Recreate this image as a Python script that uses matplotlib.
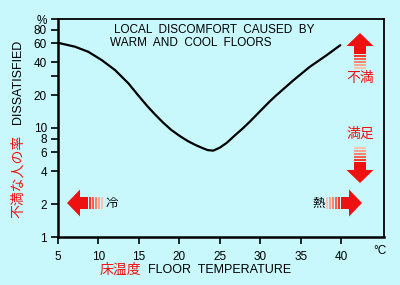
import matplotlib
matplotlib.use("Agg")
import matplotlib.pyplot as plt
from matplotlib.patches import Polygon

# Werte
temperatur = [5.2, 7.1, 8.75, 10.4, 12.05, 13.7, 14.9, 16.0, 17.0, 18.0, 19.0,
              20.1, 21.1, 22.0, 22.75, 23.5, 24.2, 25.0, 25.85, 26.9, 27.9,
              28.7, 30.0, 31.2, 32.0, 34.1, 36.1, 38.2, 39.9]
unzufrieden = [60, 55.7, 50, 42, 34, 25.7, 20.0, 16.0, 13.3, 11.2, 9.6,
               8.4, 7.55, 6.98, 6.6, 6.27, 6.2, 6.6, 7.3, 8.6, 10.0,
               11.4, 14.3, 17.6, 20.0, 27.4, 36.3, 46.5, 57.5]

x_ticks = [5, 10, 15, 20, 25, 30, 35, 40]
y_ticks = [1, 2, 4, 6, 8, 10, 20, 40, 60, 80, 100]
y_labels = ['1', '2', '4', '6', '8', '10', '20', '40', '60', '80', '%']
y_minor = [30]

BG = '#c8f8fc'
ROT = '#ee1111'
LAT = 'Liberation Sans'
JP = ['Noto Sans CJK JP', 'DejaVu Sans']

W, H = 400, 285
fig = plt.figure(figsize=(W / 100, H / 100), dpi=100, facecolor=BG)
ax = fig.add_axes([58 / W, 1 - 237 / H, (384 - 58) / W, (237 - 19) / H])
ax.set_facecolor(BG)

ax.plot(temperatur, unzufrieden, color='black', lw=1.6,
        solid_joinstyle='round', solid_capstyle='round')

ax.set_yscale('log')
ax.set_ylim(1, 100)
ax.set_xlim(5, 45.3)
ax.set_xticks(x_ticks)
ax.set_xticklabels([str(t) for t in x_ticks], fontfamily=LAT, fontsize=8.5)
ax.set_yticks(y_ticks)
ax.set_yticklabels(y_labels, fontfamily=LAT, fontsize=8.5)
ax.set_yticks(y_minor, minor=True)
ax.yaxis.set_minor_formatter(plt.NullFormatter())
ax.tick_params(axis='both', which='both', direction='out', length=5, width=1.2)
ax.tick_params(axis='x', pad=5)
ax.tick_params(axis='y', pad=3)

for s in ['left', 'bottom']:
    ax.spines[s].set_linewidth(1.8)
for s in ['top', 'right']:
    ax.spines[s].set_linewidth(1.3)


def px(x, y):
    return x / W, 1 - y / H


def txt(x, y, s, **kw):
    fx, fy = px(x, y)
    fig.text(fx, fy, s, **kw)


# Titel
txt(214, 30, 'LOCAL  DISCOMFORT  CAUSED  BY', fontfamily=LAT, fontsize=8.5,
    ha='center', va='center')
txt(110, 43, 'WARM  AND  COOL  FLOORS', fontfamily=LAT, fontsize=8.5,
    ha='left', va='center')

# Achsenbeschriftungen
txt(18, 82, 'DISSATISFIED', fontfamily=LAT, fontsize=9, rotation=90,
    ha='center', va='center')
txt(18, 176, '不満な人の率', family=JP, fontsize=10, color=ROT, rotation=90,
    ha='center', va='center')
txt(120, 270, '床温度', family=JP, fontsize=10, color=ROT, ha='center', va='center')
txt(148, 270, 'FLOOR  TEMPERATURE', fontfamily=LAT, fontsize=9, ha='left', va='center')
txt(380, 251, '°C', fontfamily=LAT, fontsize=8.5, ha='center', va='center')

txt(112, 203, '冷', family=JP, fontsize=9, ha='center', va='center')
txt(319, 203, '熱', family=JP, fontsize=9, ha='center', va='center')
txt(360, 78, '不満', family=JP, fontsize=10, color=ROT, ha='center', va='center')
txt(360, 134, '満足', family=JP, fontsize=10, color=ROT, ha='center', va='center')


def pfeil(tx, ty, dx, dy):
    # Spitze bei (tx, ty), Richtung (dx, dy)
    qx, qy = -dy, dx

    def pt(a, b):
        return px(tx - dx * a + qx * b, ty - dy * a + qy * b)

    kopf = [pt(0, 0), pt(13, 13.5), pt(13, -13.5)]
    fig.add_artist(Polygon(kopf, closed=True, transform=fig.transFigure,
                           facecolor=ROT, edgecolor='none'))
    schaft = [pt(12.5, 5.8), pt(21, 5.8), pt(21, -5.8), pt(12.5, -5.8)]
    fig.add_artist(Polygon(schaft, closed=True, transform=fig.transFigure,
                           facecolor=ROT, edgecolor='none'))
    farben = ['#f43a30', '#f6604f', '#f8836f', '#faa690', '#fcc4b0']
    a = 21
    for f in farben:
        streifen = [pt(a + 0.9, 5.8), pt(a + 3.0, 5.8), pt(a + 3.0, -5.8), pt(a + 0.9, -5.8)]
        fig.add_artist(Polygon(streifen, closed=True, transform=fig.transFigure,
                               facecolor=f, edgecolor='none'))
        a += 3.0


pfeil(67, 203, -1, 0)
pfeil(362, 203, 1, 0)
pfeil(360, 33, 0, -1)
pfeil(360, 183, 0, 1)

fig.savefig('out.png', dpi=100, facecolor=BG)
